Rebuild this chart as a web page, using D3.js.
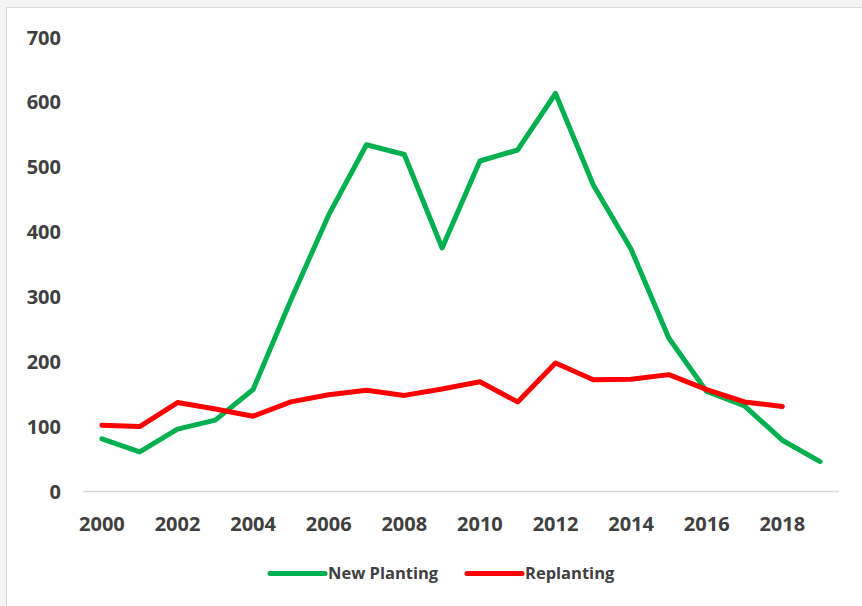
<!DOCTYPE html>
<html>
<head>
<meta charset="utf-8">
<script src="https://cdn.jsdelivr.net/npm/d3@7"></script>
<style>
  html, body { margin: 0; padding: 0; background: #f4f4f4; }
  svg { display: block; }
  text { font-family: "Open Sans", "Liberation Sans", sans-serif; font-weight: 700; fill: #404040; }
</style>
</head>
<body>
<svg id="chart" width="862" height="606"></svg>
<script>
// Planted area by year
const years = [2000, 2001, 2002, 2003, 2004, 2005, 2006, 2007, 2008, 2009,
               2010, 2011, 2012, 2013, 2014, 2015, 2016, 2017, 2018, 2019];
const newPlanting = [81, 61, 96, 110, 157, 295, 426, 534, 519, 375,
                     509, 526, 613, 472, 373, 236, 154, 132, 79, 46];
const replanting = [102, 100, 137, 127, 116, 138, 149, 156, 148, 158,
                    169, 138, 198, 172, 173, 180, 157, 138, 131, null];
const yTicks = [0, 100, 200, 300, 400, 500, 600, 700];
const xTickLabels = [2000, 2002, 2004, 2006, 2008, 2010, 2012, 2014, 2016, 2018];

const series = [
  { name: "New Planting", values: newPlanting, color: "#00b050" },
  { name: "Replanting", values: replanting, color: "#ff0000" }
];

const svg = d3.select("#chart");

// chart panel with its thin border
svg.append("rect")
  .attr("x", 6.5).attr("y", 7.5)
  .attr("width", 870).attr("height", 620)
  .attr("fill", "#ffffff")
  .attr("stroke", "#d9d9d9").attr("stroke-width", 1);

const x = d3.scaleBand().domain(years).range([83, 839]);
const y = d3.scaleLinear().domain([0, 700]).range([491.5, 37]);
const cx = yr => x(yr) + x.bandwidth() / 2;

// horizontal category axis line
svg.append("line")
  .attr("x1", x.range()[0]).attr("x2", x.range()[1])
  .attr("y1", y(0)).attr("y2", y(0))
  .attr("stroke", "#d9d9d9").attr("stroke-width", 1.5);

// y axis labels
const yAxis = d3.axisLeft(y).tickValues(yTicks).tickSize(0).tickPadding(0);
const gy = svg.append("g").attr("transform", "translate(61,0)").call(yAxis);
gy.select(".domain").remove();
gy.selectAll("text")
  .attr("font-size", 20)
  .attr("dy", "0.35em")
  .attr("font-family", null).attr("fill", null);

// x axis labels
const xAxis = d3.axisBottom(x).tickValues(xTickLabels).tickSize(0).tickPadding(0);
const gx = svg.append("g").attr("transform", `translate(0,${y(0)})`).call(xAxis);
gx.select(".domain").remove();
gx.selectAll("text")
  .attr("font-size", 20)
  .attr("y", 32).attr("dy", "0.35em")
  .attr("font-family", null).attr("fill", null);

// series lines
const line = d3.line()
  .defined(d => d.v != null)
  .x(d => cx(d.yr))
  .y(d => y(d.v));

series.forEach(s => {
  svg.append("path")
    .datum(years.map((yr, i) => ({ yr, v: s.values[i] })))
    .attr("fill", "none")
    .attr("stroke", s.color)
    .attr("stroke-width", 5)
    .attr("stroke-linejoin", "round")
    .attr("stroke-linecap", "round")
    .attr("d", line);
});

// legend
const legendItems = [
  { s: series[0], x: 270 },
  { s: series[1], x: 467 }
];
legendItems.forEach(({ s, x: lx }) => {
  const g = svg.append("g").attr("transform", `translate(${lx},573.5)`);
  g.append("line")
    .attr("x1", 0).attr("x2", 55).attr("y1", 0).attr("y2", 0)
    .attr("stroke", s.color).attr("stroke-width", 5)
    .attr("stroke-linecap", "round");
  g.append("text")
    .attr("x", 58).attr("y", 0).attr("dy", "0.35em")
    .attr("font-size", 16.5)
    .text(s.name);
});
</script>
</body>
</html>
